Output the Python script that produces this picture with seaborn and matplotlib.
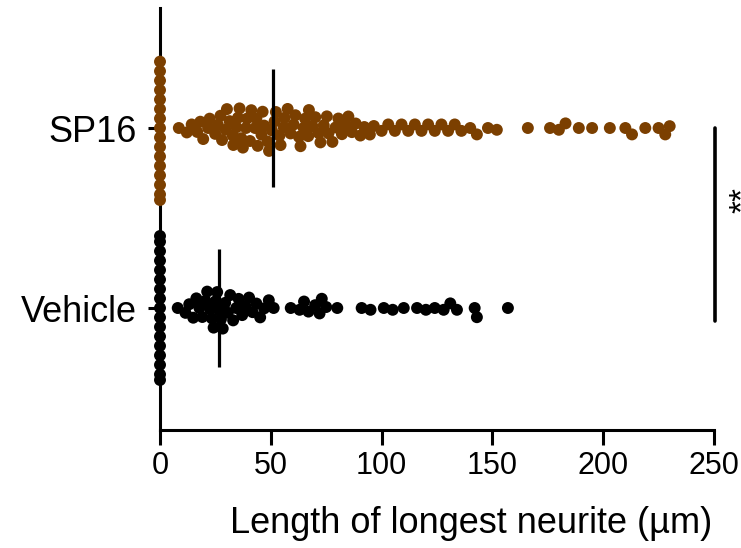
import numpy as np
import pandas as pd
import seaborn as sns
import matplotlib.pyplot as plt

groups = ['SP16', 'Vehicle']
colors = ['#7B3F00', '#000000']

# neurite lengths (um)
sp16_zeros = 16
sp16_values = [8.5, 12.1, 14.3, 16.8, 18.2, 19.5, 21.7, 22.4, 24.9, 26.1, 27.3, 28.0,
               29.6, 30.2, 31.4, 32.8, 33.1, 34.5, 35.2, 35.9, 36.7, 37.4, 38.8, 39.3,
               40.6, 41.2, 42.9, 43.5, 44.1, 45.8, 46.3, 47.0, 48.6, 49.2, 50.5, 51.7,
               52.3, 53.9, 54.4, 55.8, 56.2, 57.6, 58.9, 60.3, 61.1, 62.7, 63.4, 64.8,
               65.5, 66.9, 67.2, 68.8, 70.1, 71.6, 72.4, 73.9, 75.3, 76.0, 77.8, 79.2,
               80.5, 82.1, 83.7, 85.0, 86.6, 88.3, 90.4, 92.2, 94.7, 96.5,
               100, 103, 106, 109, 112, 115, 118, 121, 124, 127, 130, 133, 136, 140,
               143, 148, 152, 166, 176, 180, 183, 189, 195, 203, 210, 213, 219, 225,
               228, 230]
vehicle_zeros = 17
vehicle_values = [8.0, 11.5, 13.2, 15.0, 16.4, 17.8, 19.1, 20.5, 21.3, 22.6, 23.4, 24.2,
                  25.0, 25.8, 26.7, 27.5, 28.3, 29.4, 30.6, 31.7, 33.0, 34.4, 35.5, 37.1,
                  38.6, 40.2, 41.8, 43.5, 45.2, 47.0, 49.1, 51.3,
                  59, 63, 65, 67, 70, 72, 73, 75, 80, 91, 95, 101, 105, 110, 116, 120,
                  124, 128, 131, 134, 142, 143, 157]
medians = [51, 26.6]

df = pd.concat([
    pd.DataFrame({'group': 'SP16', 'length': [0.0] * sp16_zeros + sp16_values}),
    pd.DataFrame({'group': 'Vehicle', 'length': [0.0] * vehicle_zeros + vehicle_values}),
])

sns.set_style('ticks')
plt.rcParams['font.family'] = ['Liberation Sans', 'DejaVu Sans']
for k in ['text.color', 'axes.labelcolor', 'xtick.color', 'ytick.color', 'axes.edgecolor']:
    plt.rcParams[k] = 'black'

fig = plt.figure(figsize=(7.41, 5.48), dpi=100)
ax = fig.add_axes([160 / 741, 1 - 430 / 548, 554 / 741, 422 / 548])

# swarm laid out with a smaller marker so dots overlap like the original
sns.swarmplot(data=df, x='length', y='group', order=groups, hue='group',
              palette=dict(zip(groups, colors)), size=6.5, linewidth=0,
              legend=False, clip_on=False, zorder=3, ax=ax)
ax.set_xlim(0, 250)
ax.set_ylim(1 + 122 / 180, -120 / 180)
fig.canvas.draw()
for coll in ax.collections:
    if 'draw' in coll.__dict__:
        del coll.draw
    coll.set_sizes([8.6 ** 2])

# median lines
ax.vlines(medians, [i - 0.33 for i in range(2)], [i + 0.33 for i in range(2)],
          color='black', lw=2.3, zorder=4)

# significance bar
ax.plot([250.5, 250.5], [0, 1.07], color='black', lw=2.6, clip_on=False)
ax.text(263, 0.4, '**', rotation=90, fontsize=24, ha='center', va='center',
        clip_on=False)

sns.despine(ax=ax)
for s in ['left', 'bottom']:
    ax.spines[s].set_linewidth(2.2)
ax.tick_params(axis='x', width=2.2, length=11, labelsize=22, pad=4)
ax.tick_params(axis='y', width=2.2, length=8.6, labelsize=26, pad=8)
ax.set_xticks([0, 50, 100, 150, 200, 250])
ax.set_ylabel('')
ax.set_xlabel('Length of longest neurite (µm)', fontsize=26)
ax.xaxis.set_label_coords(0.561, -0.18)

fig.savefig('out.png', dpi=100)
